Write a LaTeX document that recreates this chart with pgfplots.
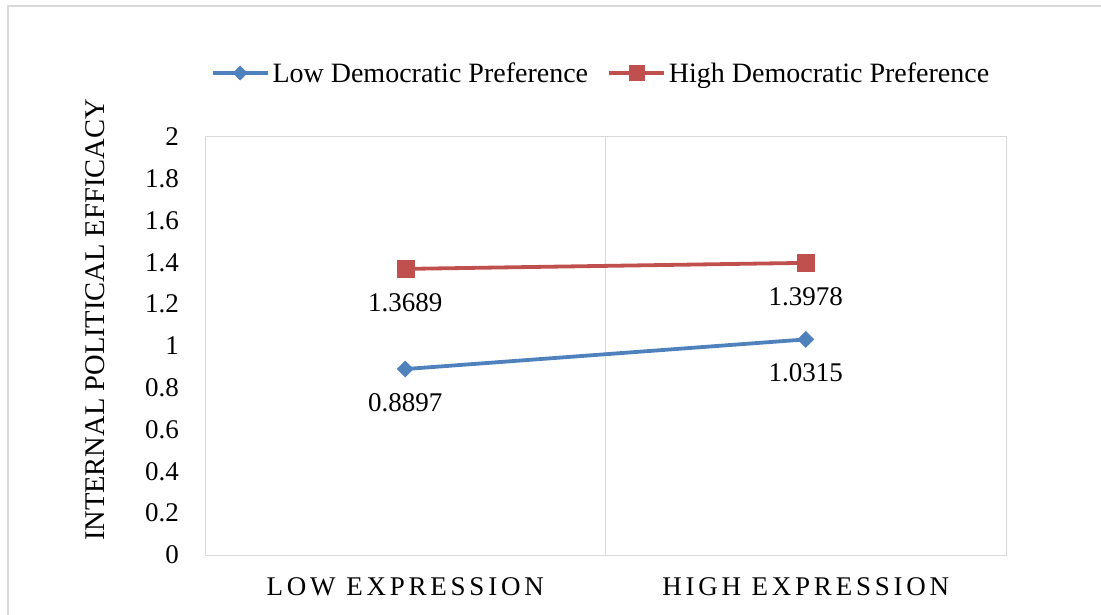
\documentclass[border=0pt]{standalone}
\usepackage{pgfplots}
\pgfplotsset{compat=1.18}
\usepackage{fontspec}
\setmainfont{Liberation Serif}
\definecolor{serblue}{HTML}{4F81BD}
\definecolor{serred}{HTML}{C0504D}
\definecolor{axgray}{HTML}{D9D9D9}
\pgfplotsset{
  lowstyle/.style={serblue, line width=3.8pt, mark=square*, mark size=5.7pt, mark options={solid, rotate=45, line width=0.5pt, fill=serblue}},
  highstyle/.style={serred, line width=3.8pt, mark=square*, mark size=8.5pt, mark options={solid, line width=0.5pt, fill=serred}},
}
\begin{document}
\begin{tikzpicture}[x=1pt,y=1pt]
\useasboundingbox (0,0) rectangle (1101,614);
\draw[axgray, line width=1.5pt] (8,-20) rectangle (1130,608);
\begin{axis}[
  at={(205pt,59pt)}, anchor=south west,
  scale only axis, width=801pt, height=418pt,
  xmin=-0.5, xmax=1.5, ymin=0, ymax=2,
  xtick={0,1},
  xticklabels={LOW EXPRESSION, HIGH EXPRESSION},
  extra x ticks={0.5}, extra x tick labels={},
  extra x tick style={grid=major, major grid style={axgray, line width=1pt}},
  ytick={0,0.2,...,2.01},
  yticklabels={0,0.2,0.4,0.6,0.8,1,1.2,1.4,1.6,1.8,2},
  major tick length=0pt,
  axis line style={axgray, line width=1pt},
  tick label style={font=\fontsize{27}{30}\selectfont, text=black},
  yticklabel style={anchor=east, inner sep=0pt, xshift=-26pt},
  xticklabel style={anchor=north, inner sep=0pt, yshift=-22pt, font=\fontsize{27}{30}\selectfont\addfontfeatures{LetterSpace=14}},
  ylabel={INTERNAL POLITICAL EFFICACY},
  ylabel style={at={(axis description cs:-0.137,0.562)}, anchor=center, font=\fontsize{28.5}{32}\selectfont},
  legend columns=2,
  legend style={at={(0.495,1.153)}, anchor=center, draw=none, fill=none,
    font=\fontsize{28}{32}\selectfont,
    nodes={inner sep=3pt},
    /tikz/every even column/.append style={column sep=16pt}},
  legend image code/.code={\draw[mark repeat=2,mark phase=2] plot coordinates {(0pt,0pt) (27.5pt,0pt) (55pt,0pt)};},
  nodes near coords, point meta=explicit symbolic,
  every node near coord/.append style={anchor=north, inner sep=0pt, yshift=-24pt, font=\fontsize{27}{30}\selectfont, text=black},
  clip=false,
]
\addlegendimage{lowstyle, mark size=5pt}
\addlegendentry{Low Democratic Preference}
\addlegendimage{highstyle, mark size=7.5pt}
\addlegendentry{High Democratic Preference}
\addplot[forget plot, lowstyle]
  coordinates {(0,0.8897)[0.8897] (1,1.0315)[1.0315]};
\addplot[forget plot, highstyle]
  coordinates {(0,1.3689)[1.3689] (1,1.3978)[1.3978]};
\end{axis}
\end{tikzpicture}
\end{document}
